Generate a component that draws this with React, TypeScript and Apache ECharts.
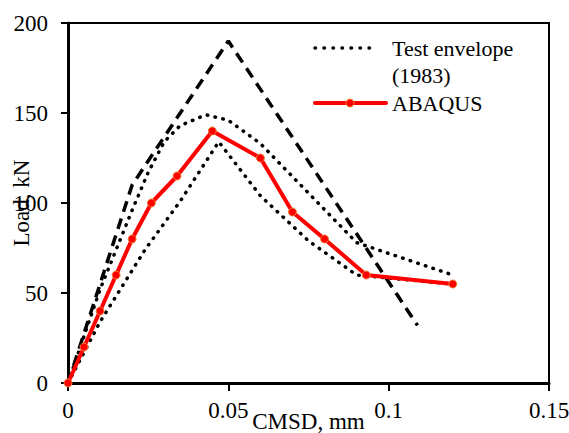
import React, { useEffect, useRef } from "react";
import * as echarts from "echarts";

const xMin = 0;
const xMax = 0.15;
const xStep = 0.05;
const yMin = 0;
const yMax = 200;
const yStep = 50;

const abaqusX = [0, 0.005, 0.01, 0.015, 0.02, 0.026, 0.034, 0.045, 0.06, 0.07, 0.08, 0.093, 0.12];
const abaqusY = [0, 20, 40, 60, 80, 100, 115, 140, 125, 95, 80, 60, 55];

const upperX = [0, 0.01, 0.02, 0.025, 0.03, 0.035, 0.043, 0.05, 0.06, 0.09, 0.12];
const upperY = [0, 52, 96, 117, 134, 143, 149, 146, 133, 78, 60];

const lowerX = [0, 0.01, 0.024, 0.035, 0.047, 0.06, 0.075, 0.09, 0.12];
const lowerY = [0, 34, 74, 101, 134, 104, 79, 60, 55];

const dashedX = [0, 0.02, 0.05, 0.109];
const dashedY = [0, 110, 190, 32];

const legendNames = ["Test envelope", "(1983)", "ABAQUS"];

const FONT = "'Liberation Serif', 'Times New Roman', serif";

const zip = (xs: number[], ys: number[]) => xs.map((x, i) => [x, ys[i]]);

export default function App() {
  const ref = useRef<HTMLDivElement>(null);
  useEffect(() => {
    if (!ref.current) return;
    const chart = echarts.init(ref.current, undefined, { renderer: "svg" });
    const dotted = { color: "#000", width: 3.5, type: [0.5, 7.5] as any, cap: "round" as any };
    chart.setOption({
      animation: false,
      backgroundColor: "#fff",
      grid: {
        left: 68,
        right: 20,
        top: 23,
        bottom: 50,
        show: true,
        borderColor: "#000",
        borderWidth: 2,
        backgroundColor: "transparent",
        outerBoundsMode: "none",
      },
      xAxis: {
        type: "value",
        min: xMin,
        max: xMax,
        interval: xStep,
        name: "CMSD, mm",
        nameLocation: "middle",
        nameGap: 27,
        nameMoveOverlap: false,
        nameTextStyle: { fontFamily: FONT, fontSize: 23, color: "#000" },
        axisLine: { show: true, lineStyle: { color: "#000", width: 3 } },
        axisTick: { show: true, length: 8, lineStyle: { color: "#000", width: 2 } },
        axisLabel: { fontFamily: FONT, fontSize: 23, color: "#000", margin: 16 },
        splitLine: { show: false },
      },
      yAxis: {
        type: "value",
        min: yMin,
        max: yMax,
        interval: yStep,
        name: "Load, kN",
        nameLocation: "middle",
        nameGap: 35,
        nameMoveOverlap: false,
        nameTextStyle: { fontFamily: FONT, fontSize: 23, color: "#000" },
        axisLine: { show: true, lineStyle: { color: "#000", width: 3 } },
        axisTick: { show: true, length: 7, lineStyle: { color: "#000", width: 2 } },
        axisLabel: { fontFamily: FONT, fontSize: 23, color: "#000", margin: 20 },
        splitLine: { show: false },
      },
      series: [
        {
          name: "Model",
          type: "line",
          data: zip(dashedX, dashedY),
          showSymbol: false,
          symbol: "none",
          lineStyle: { color: "#000", width: 3.5, type: [11, 7] as any },
        },
        {
          name: "Test envelope (1983)",
          type: "line",
          data: zip(upperX, upperY),
          showSymbol: false,
          symbol: "none",
          lineStyle: dotted,
        },
        {
          name: "Test envelope (1983) lower",
          type: "line",
          data: zip(lowerX, lowerY),
          showSymbol: false,
          symbol: "none",
          lineStyle: dotted,
        },
        {
          name: "ABAQUS",
          type: "line",
          data: zip(abaqusX, abaqusY),
          symbol: "circle",
          symbolSize: 8,
          showSymbol: true,
          itemStyle: { color: "#ff0000", borderColor: "#ED7D31", borderWidth: 1 },
          lineStyle: { color: "#ff0000", width: 4 },
        },
      ],
      graphic: [
        {
          type: "line",
          shape: { x1: 315, y1: 48, x2: 378, y2: 48 },
          style: { stroke: "#000", lineWidth: 3.5, lineDash: [0.5, 8.5], lineCap: "round" },
        },
        {
          type: "text",
          x: 392,
          y: 48,
          style: { text: legendNames[0], font: `22px ${FONT}`, fill: "#000", verticalAlign: "middle" },
        },
        {
          type: "text",
          x: 392,
          y: 75,
          style: { text: legendNames[1], font: `22px ${FONT}`, fill: "#000", verticalAlign: "middle" },
        },
        {
          type: "line",
          shape: { x1: 315, y1: 103, x2: 386, y2: 103 },
          style: { stroke: "#ff0000", lineWidth: 4, lineCap: "round" },
        },
        {
          type: "circle",
          shape: { cx: 350, cy: 103, r: 4 },
          style: { fill: "#ff0000", stroke: "#ED7D31", lineWidth: 1 },
        },
        {
          type: "text",
          x: 392,
          y: 103,
          style: { text: legendNames[2], font: `22px ${FONT}`, fill: "#000", verticalAlign: "middle" },
        },
      ],
    });
    return () => chart.dispose();
  }, []);
  return (
    <div
      ref={ref}
      style={{ position: "fixed", left: 0, top: 0, width: 569, height: 433 }}
    />
  );
}
